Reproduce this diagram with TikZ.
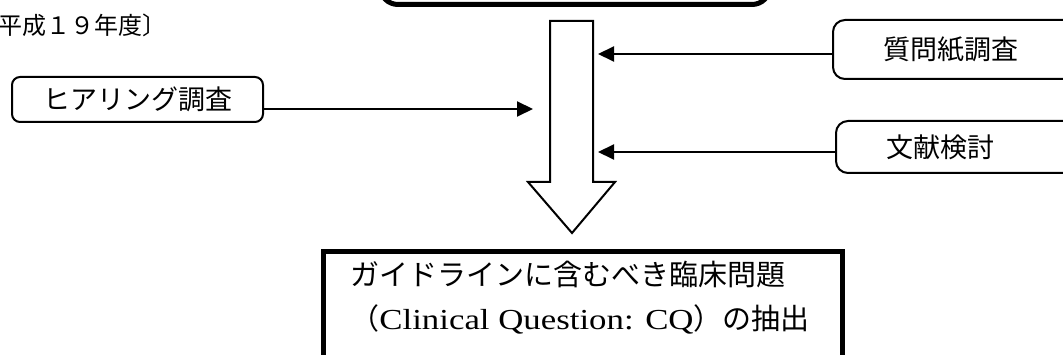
\documentclass[tikz,border=0pt]{standalone}
\usepackage{fontspec}
\setmainfont{Liberation Serif}
\newfontfamily\jp{Noto Sans CJK JP}
\newfontfamily\lat[FakeStretch=1.2]{Liberation Serif}
\usetikzlibrary{arrows.meta}
\begin{document}
\begin{tikzpicture}[x=1pt,y=-1pt,
  thinbox/.style={draw, line width=2pt, rounded corners=8pt, inner sep=0pt},
  conn/.style={line width=2pt, -{Triangle[length=16pt,width=15pt]}},
  lbl/.style={font=\jp\fontsize{27}{30}\selectfont},
  thickbox/.style={draw, line width=5pt}]
\useasboundingbox (0,0) rectangle (1063,355);
\fill[white] (0,0) rectangle (1063,355);
\clip (0,0) rectangle (1063,355);

% top box (cut off at the top)
\node (topbox) [thickbox, rounded corners=18pt, inner sep=0pt,
  minimum width=390pt, minimum height=60pt, anchor=south] at (575,7) {};

% year label
\node (year) [anchor=west, inner sep=0pt, font=\jp\fontsize{24}{28}\selectfont] at (-2,25) {平成１９年度〕};

% hearing box
\node (hear) [thinbox, lbl, minimum width=251pt, minimum height=45pt] at (137.5,99.5) {ヒアリング調査};

% right boxes
\node (quest) [thinbox, lbl, rounded corners=12pt, anchor=north west,
  minimum height=59pt, text width=145pt, inner xsep=50pt, align=left] at (832,19) {質問紙調査};
\node (lit) [thinbox, lbl, rounded corners=12pt, anchor=north west,
  minimum height=52pt, text width=145pt, inner xsep=50pt, align=left] at (835,120) {文献検討};

% big hollow arrow
\draw[line width=2pt, fill=white]
  (550,21) -- (593,21) -- (593,182) -- (615,182) -- (572,233) -- (528,182) -- (550,182) -- cycle;

% arrow end points at the shaft
\coordinate (inL) at (533,109);
\coordinate (inQ) at (598,54);
\coordinate (inT) at (598,152);

\draw[conn] (inL -| hear.east) -- (inL);
\draw[conn] (inQ -| quest.west) -- (inQ);
\draw[conn] (inT -| lit.west) -- (inT);

% bottom box (cut off at the bottom)
\node (cq) [thickbox, inner sep=0pt, anchor=north west,
  minimum width=519pt, minimum height=160pt] at (321,249) {};
\node (cqt) [align=left, inner sep=0pt, font=\jp\fontsize{29}{44}\selectfont] at (580,298)
  {ガイドラインに含むべき臨床問題\\（{\lat Clinical Question: CQ}）の抽出};
\end{tikzpicture}
\end{document}
